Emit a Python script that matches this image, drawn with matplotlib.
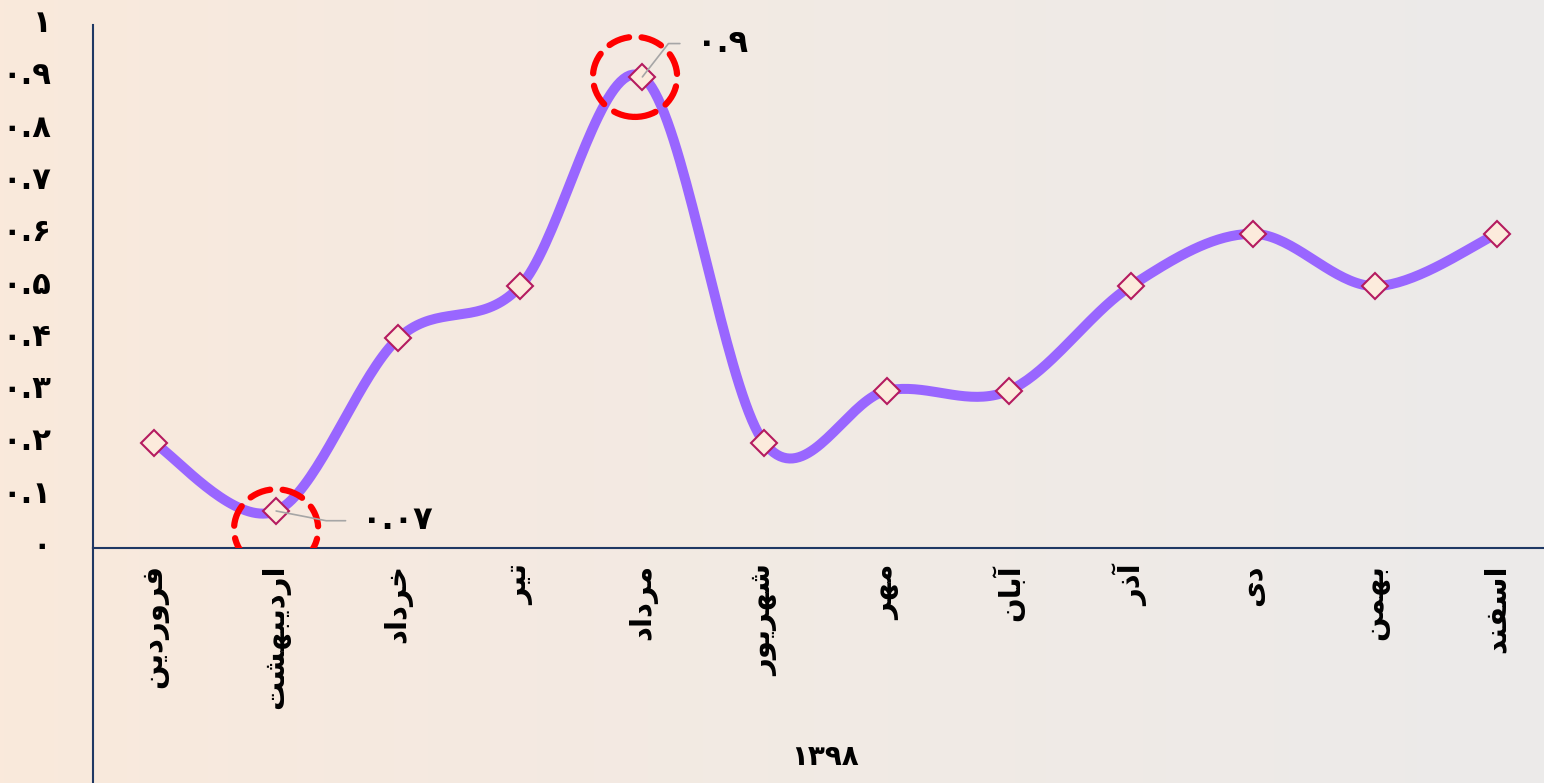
import numpy as np
import matplotlib
matplotlib.use("Agg")
import matplotlib.pyplot as plt
import matplotlib.transforms as mtransforms
from matplotlib.patches import Ellipse

# data
months = ["فروردین", "اردیبهشت", "خرداد", "تیر", "مرداد", "شهریور",
          "مهر", "آبان", "آذر", "دی", "بهمن", "اسفند"]
values = [0.2, 0.07, 0.4, 0.5, 0.9, 0.2, 0.3, 0.3, 0.5, 0.6, 0.5, 0.6]
year = "1398"
y_ticks = [0, 0.1, 0.2, 0.3, 0.4, 0.5, 0.6, 0.7, 0.8, 0.9, 1.0]
highlight = [1, 4]  # min and max points

# minimal Persian shaping (isolated, final, initial, medial)
FORMS = {
    "ا": ("\uFE8D", "\uFE8E", None, None),
    "آ": ("\uFE81", "\uFE82", None, None),
    "ب": ("\uFE8F", "\uFE90", "\uFE91", "\uFE92"),
    "ت": ("\uFE95", "\uFE96", "\uFE97", "\uFE98"),
    "خ": ("\uFEA5", "\uFEA6", "\uFEA7", "\uFEA8"),
    "د": ("\uFEA9", "\uFEAA", None, None),
    "ذ": ("\uFEAB", "\uFEAC", None, None),
    "ر": ("\uFEAD", "\uFEAE", None, None),
    "س": ("\uFEB1", "\uFEB2", "\uFEB3", "\uFEB4"),
    "ش": ("\uFEB5", "\uFEB6", "\uFEB7", "\uFEB8"),
    "ف": ("\uFED1", "\uFED2", "\uFED3", "\uFED4"),
    "م": ("\uFEE1", "\uFEE2", "\uFEE3", "\uFEE4"),
    "ن": ("\uFEE5", "\uFEE6", "\uFEE7", "\uFEE8"),
    "ه": ("\uFEE9", "\uFEEA", "\uFEEB", "\uFEEC"),
    "و": ("\uFEED", "\uFEEE", None, None),
    "ی": ("\uFBFC", "\uFBFD", "\uFBFE", "\uFBFF"),
}


def shape(word):
    out = []
    for i, ch in enumerate(word):
        f = FORMS.get(ch)
        if f is None:
            out.append(ch)
            continue
        prev_joins = i > 0 and FORMS.get(word[i - 1], (0, 0, None))[2] is not None
        next_joins = i < len(word) - 1 and f[2] is not None and word[i + 1] in FORMS
        if prev_joins and next_joins:
            out.append(f[3])
        elif prev_joins:
            out.append(f[1])
        elif next_joins:
            out.append(f[2])
        else:
            out.append(f[0])
    return "".join(reversed(out))


def fa_digits(s):
    return str(s).translate(str.maketrans("0123456789", "۰۱۲۳۴۵۶۷۸۹"))


def fmt(v):
    return fa_digits(f"{v:g}")


def smooth(xs, ys, n=40):
    # Catmull-Rom style bezier like spreadsheet "smoothed line"
    pts = np.column_stack([xs, ys]).astype(float)
    pad = np.vstack([pts[0], pts, pts[-1]])
    t = np.linspace(0, 1, n)[:, None]
    segs = []
    for i in range(len(pts) - 1):
        p0, p1, p2, p3 = pad[i], pad[i + 1], pad[i + 2], pad[i + 3]
        c1 = p1 + (p2 - p0) / 6
        c2 = p2 - (p3 - p1) / 6
        seg = (1 - t) ** 3 * p1 + 3 * (1 - t) ** 2 * t * c1 + 3 * (1 - t) * t ** 2 * c2 + t ** 3 * p2
        segs.append(seg if i == 0 else seg[1:])
    return np.vstack(segs)


plt.rcParams["font.family"] = ["DejaVu Sans"]

fig = plt.figure(figsize=(15.44, 7.83), dpi=100)

# background gradient
bg = fig.add_axes([0, 0, 1, 1], zorder=-10)
left_c = np.array([250, 233, 219]) / 255
right_c = np.array([236, 235, 234]) / 255
g = np.linspace(0, 1, 400) ** 0.8
grad = left_c[None, :] * (1 - g[:, None]) + right_c[None, :] * g[:, None]
bg.imshow(grad[None, :, :], aspect="auto", extent=[0, 1, 0, 1])
bg.axis("off")

ax = fig.add_axes([93 / 1544, 235.4 / 783, 1465 / 1544, 523 / 783])
ax.set_facecolor("none")

x = np.arange(len(months))
curve = smooth(x, values)
ax.plot(curve[:, 0], curve[:, 1], color="#9966FF", lw=7.2, solid_capstyle="round", zorder=3)
ax.plot(x, values, "D", ms=13, mfc="#FCEBDC", mec="#B51B5F", mew=1.5, zorder=4)

ax.set_xlim(-0.5, 11.5)
ax.set_ylim(0, 1)

navy = "#1F3864"
for s in ["top", "right"]:
    ax.spines[s].set_visible(False)
for s in ["left", "bottom"]:
    ax.spines[s].set_color(navy)
    ax.spines[s].set_linewidth(1.5)
# group divider continuing below the category axis
ax.plot([0, 0], [0, -0.46], transform=ax.transAxes, color=navy, lw=1.5, clip_on=False)

ax.set_yticks(y_ticks)
ax.set_yticklabels([fmt(v) for v in y_ticks], fontsize=22, fontweight="bold")
ax.set_xticks(x)
ax.set_xticklabels([shape(m) for m in months], rotation=90, fontsize=21, fontweight="bold")
ax.tick_params(axis="y", length=0, pad=30)
ax.tick_params(axis="x", length=0, pad=12)

# nudge y labels up a little, as in the reference
lift = mtransforms.ScaledTranslation(0, 4 / 100, fig.dpi_scale_trans)
for lbl in ax.get_yticklabels():
    lbl.set_transform(lbl.get_transform() + lift)

ax.text(0.5, -0.40, fa_digits(year), transform=ax.transAxes, ha="center", va="center",
        fontsize=20, fontweight="bold")

# highlight circles + data labels
circle_off = {1: (0.0, -0.035), 4: (-0.06, 0.0)}
text_off = {1: (62, -7), 4: (39, 24)}
angle_b = {1: -11, 4: 52}
for i in highlight:
    dx, dy = circle_off[i]
    ax.add_patch(Ellipse((x[i] + dx, values[i] + dy), width=0.69, height=0.153,
                         fill=False, ec="#FF0000", lw=4.5, ls=(0, (3.4, 2.0)),
                         capstyle="round", zorder=6))
    ax.annotate(fmt(values[i]), xy=(x[i], values[i]), xytext=text_off[i],
                textcoords="offset points", ha="left", va="center",
                fontsize=23, fontweight="bold", zorder=7,
                arrowprops=dict(arrowstyle="-", color="#A6A6A6", lw=1.2,
                                relpos=(0, 0.5), shrinkA=10, shrinkB=0,
                                connectionstyle=f"angle,angleA=0,angleB={angle_b[i]},rad=0"))

plt.savefig("out.png", dpi=100)
plt.close()
